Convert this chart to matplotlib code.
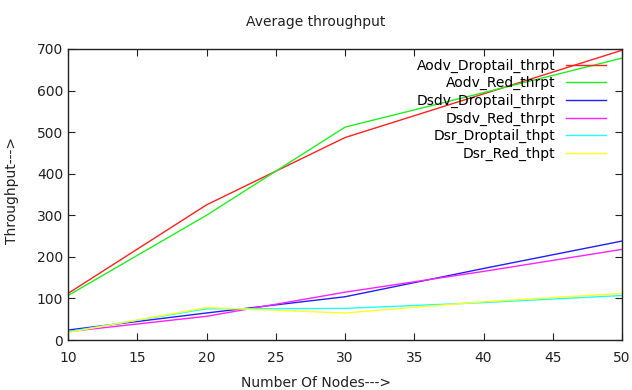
import matplotlib
matplotlib.use("Agg")
import matplotlib.pyplot as plt

nodes = [10, 20, 30, 40, 50]
aodv_droptail = [112, 325, 487, 592, 697]
aodv_red = [107, 300, 512, 595, 678]
dsdv_droptail = [24, 65, 104, 172, 238]
dsdv_red = [20, 57, 115, 165, 218]
dsr_droptail = [20, 75, 76, 90, 107]
dsr_red = [18, 78, 65, 92, 112]

series = [
    ("Aodv_Droptail_thrpt", aodv_droptail, "#ff2020"),
    ("Aodv_Red_thrpt", aodv_red, "#20ee20"),
    ("Dsdv_Droptail_thrpt", dsdv_droptail, "#2020ff"),
    ("Dsdv_Red_thrpt", dsdv_red, "#ff20ff"),
    ("Dsr_Droptail_thpt", dsr_droptail, "#20ffff"),
    ("Dsr_Red_thpt", dsr_red, "#ffff20"),
]

fig = plt.figure(figsize=(6.32, 3.9), dpi=100)
ax = fig.add_axes([68 / 632, 50 / 390, 554 / 632, 291 / 390])

for label, vals, col in series:
    ax.plot(nodes, vals, color=col, lw=1.0, label=label)

ax.set_xlim(10, 50)
ax.set_ylim(0, 700)
ax.set_xticks(range(10, 51, 5))
ax.set_yticks(range(0, 701, 100))
ax.tick_params(direction="in", top=True, right=True, length=5, labelsize=10, colors="#222222")
ax.tick_params(axis="x", pad=8)
for s in ax.spines.values():
    s.set_linewidth(1.0)
    s.set_color("#222222")

fig.text(0.5, 1 - 22 / 390, "Average throughput", ha="center", va="center", fontsize=10, color="#222222")
fig.text(0.5, 1 - 383 / 390, "Number Of Nodes--->", ha="center", va="center", fontsize=10, color="#222222")
fig.text(12 / 632, 0.5 + 5 / 390, "Throughput--->", ha="center", va="center", rotation=90, fontsize=10, color="#222222")

leg = ax.legend(loc="upper right", bbox_to_anchor=(1 - 6 / 554, 1), frameon=False,
                markerfirst=False, fontsize=10, handlelength=2.9, labelspacing=0.25,
                borderaxespad=0.3, handletextpad=0.75)

fig.savefig("out.png", dpi=100)
